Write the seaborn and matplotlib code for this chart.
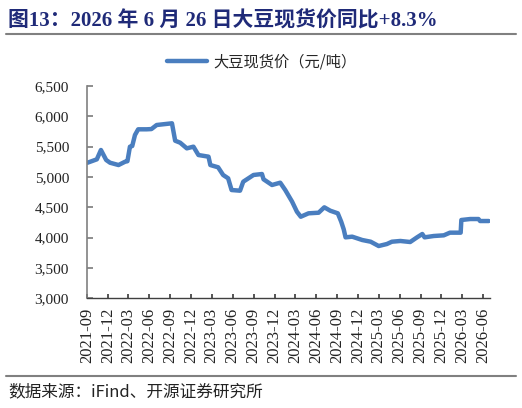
import matplotlib
matplotlib.use("Agg")
import matplotlib.pyplot as plt
import matplotlib.dates as mdates
from matplotlib.ticker import FuncFormatter
import pandas as pd
import seaborn as sns

sns.set_theme(style="white")
plt.rcParams['font.family'] = ['Liberation Serif', 'Noto Sans CJK SC', 'DejaVu Sans']

series_name = "大豆现货价（元/吨）"
dates = [
    "2021-09-03", "2021-10-14", "2021-11-01", "2021-11-24", "2021-12-11", "2022-01-17",
    "2022-02-15", "2022-02-25", "2022-03-08", "2022-03-18", "2022-03-30", "2022-04-13",
    "2022-05-20", "2022-06-10", "2022-07-03",
    "2022-09-08", "2022-09-22", "2022-10-14", "2022-11-12", "2022-12-11", "2023-01-02",
    "2023-02-15", "2023-02-23", "2023-03-29", "2023-04-20", "2023-05-12", "2023-05-27",
    "2023-07-03", "2023-07-17", "2023-08-31", "2023-10-07", "2023-10-14", "2023-11-20",
    "2023-12-26", "2024-01-17", "2024-02-16", "2024-03-08", "2024-03-25", "2024-04-28",
    "2024-06-11", "2024-07-06", "2024-08-01", "2024-09-03", "2024-09-18", "2024-09-29",
    "2024-10-07", "2024-11-05", "2024-12-19", "2025-01-25", "2025-03-01", "2025-04-06",
    "2025-04-28", "2025-06-04", "2025-07-17", "2025-08-16", "2025-09-08", "2025-09-18",
    "2025-10-28", "2025-12-11", "2026-01-07", "2026-02-23", "2026-02-26", "2026-04-06",
    "2026-05-12", "2026-05-19", "2026-06-26",
]
prices = [
    5235, 5291, 5445, 5280, 5235, 5197,
    5252, 5260, 5500, 5510, 5692, 5786,
    5786, 5790, 5857,
    5885, 5598, 5565, 5472, 5500, 5362,
    5335, 5197, 5160, 5033, 4978, 4785,
    4774, 4922, 5033, 5049, 4962, 4868,
    4906, 4785, 4593, 4428, 4345, 4401,
    4411, 4500, 4444, 4401, 4263, 4137,
    4005, 4016, 3961, 3933, 3862, 3895,
    3933, 3945, 3928, 4005, 4060, 4005,
    4027, 4038, 4082, 4082, 4291, 4307,
    4307, 4274, 4274,
]
ytick_vals = [3000, 3500, 4000, 4500, 5000, 5500, 6000, 6500]

df = pd.DataFrame({"date": pd.to_datetime(dates), "price": prices})

fig = plt.figure(figsize=(5.22, 4.08), dpi=100)
ax = fig.add_axes([87/522, 1-298.3/408, (489.6-86.7)/522, (298.3-86)/408])

sns.lineplot(data=df, x="date", y="price", ax=ax, color="#4A7EBF", linewidth=3.2,
             label=series_name, legend=False)

ax.set_ylim(3000, 6500)
ax.set_yticks(ytick_vals)
ax.yaxis.set_major_formatter(FuncFormatter(lambda v, p: f"{int(v):,}"))
ax.set_xlim(pd.Timestamp("2021-09-01"), pd.Timestamp("2026-07-01"))
ax.xaxis.set_major_locator(mdates.MonthLocator(bymonth=[3, 6, 9, 12]))
ax.xaxis.set_major_formatter(mdates.DateFormatter("%Y-%m"))
ax.set_xlabel("")
ax.set_ylabel("")

for s in ["top", "right"]:
    ax.spines[s].set_visible(False)
ax.spines["left"].set_color("#808080")
ax.spines["left"].set_linewidth(1.2)
ax.spines["bottom"].set_color("#404040")
ax.spines["bottom"].set_linewidth(1.0)
ax.tick_params(axis="y", direction="in", length=4, color="#808080", pad=13,
               labelsize=11, labelcolor="#222222", left=True)
ax.tick_params(axis="x", direction="in", length=3, color="#404040", pad=7,
               labelsize=12, labelcolor="#222222", rotation=90, bottom=True)
ax.grid(False)

leg = fig.legend(handles=ax.get_lines(), labels=[series_name],
                 loc="center", bbox_to_anchor=(262/522, 1-62/408), frameon=False,
                 handlelength=2.6, handletextpad=0.4,
                 prop={"family": ["Noto Sans CJK SC"], "size": 11})

fig.text(8/522, 1-21/408, "图13：2026 年 6 月 26 日大豆现货价同比+8.3%",
         ha="left", va="center", fontsize=15, fontweight="bold", color="#1F2A78",
         family=["Liberation Serif", "Noto Sans CJK SC"])
fig.add_artist(plt.Line2D([6/522, 516/522], [1-34/408, 1-34/408],
                          transform=fig.transFigure, color="#808080", linewidth=1.5))
fig.add_artist(plt.Line2D([6/522, 516/522], [1-376/408, 1-376/408],
                          transform=fig.transFigure, color="#808080", linewidth=1.5))
fig.text(8/522, 1-392/408, "数据来源：iFind、开源证券研究所",
         ha="left", va="center", fontsize=12, color="#222222",
         family=["Noto Sans CJK SC", "Liberation Serif"])

fig.savefig("out.png", dpi=100)
